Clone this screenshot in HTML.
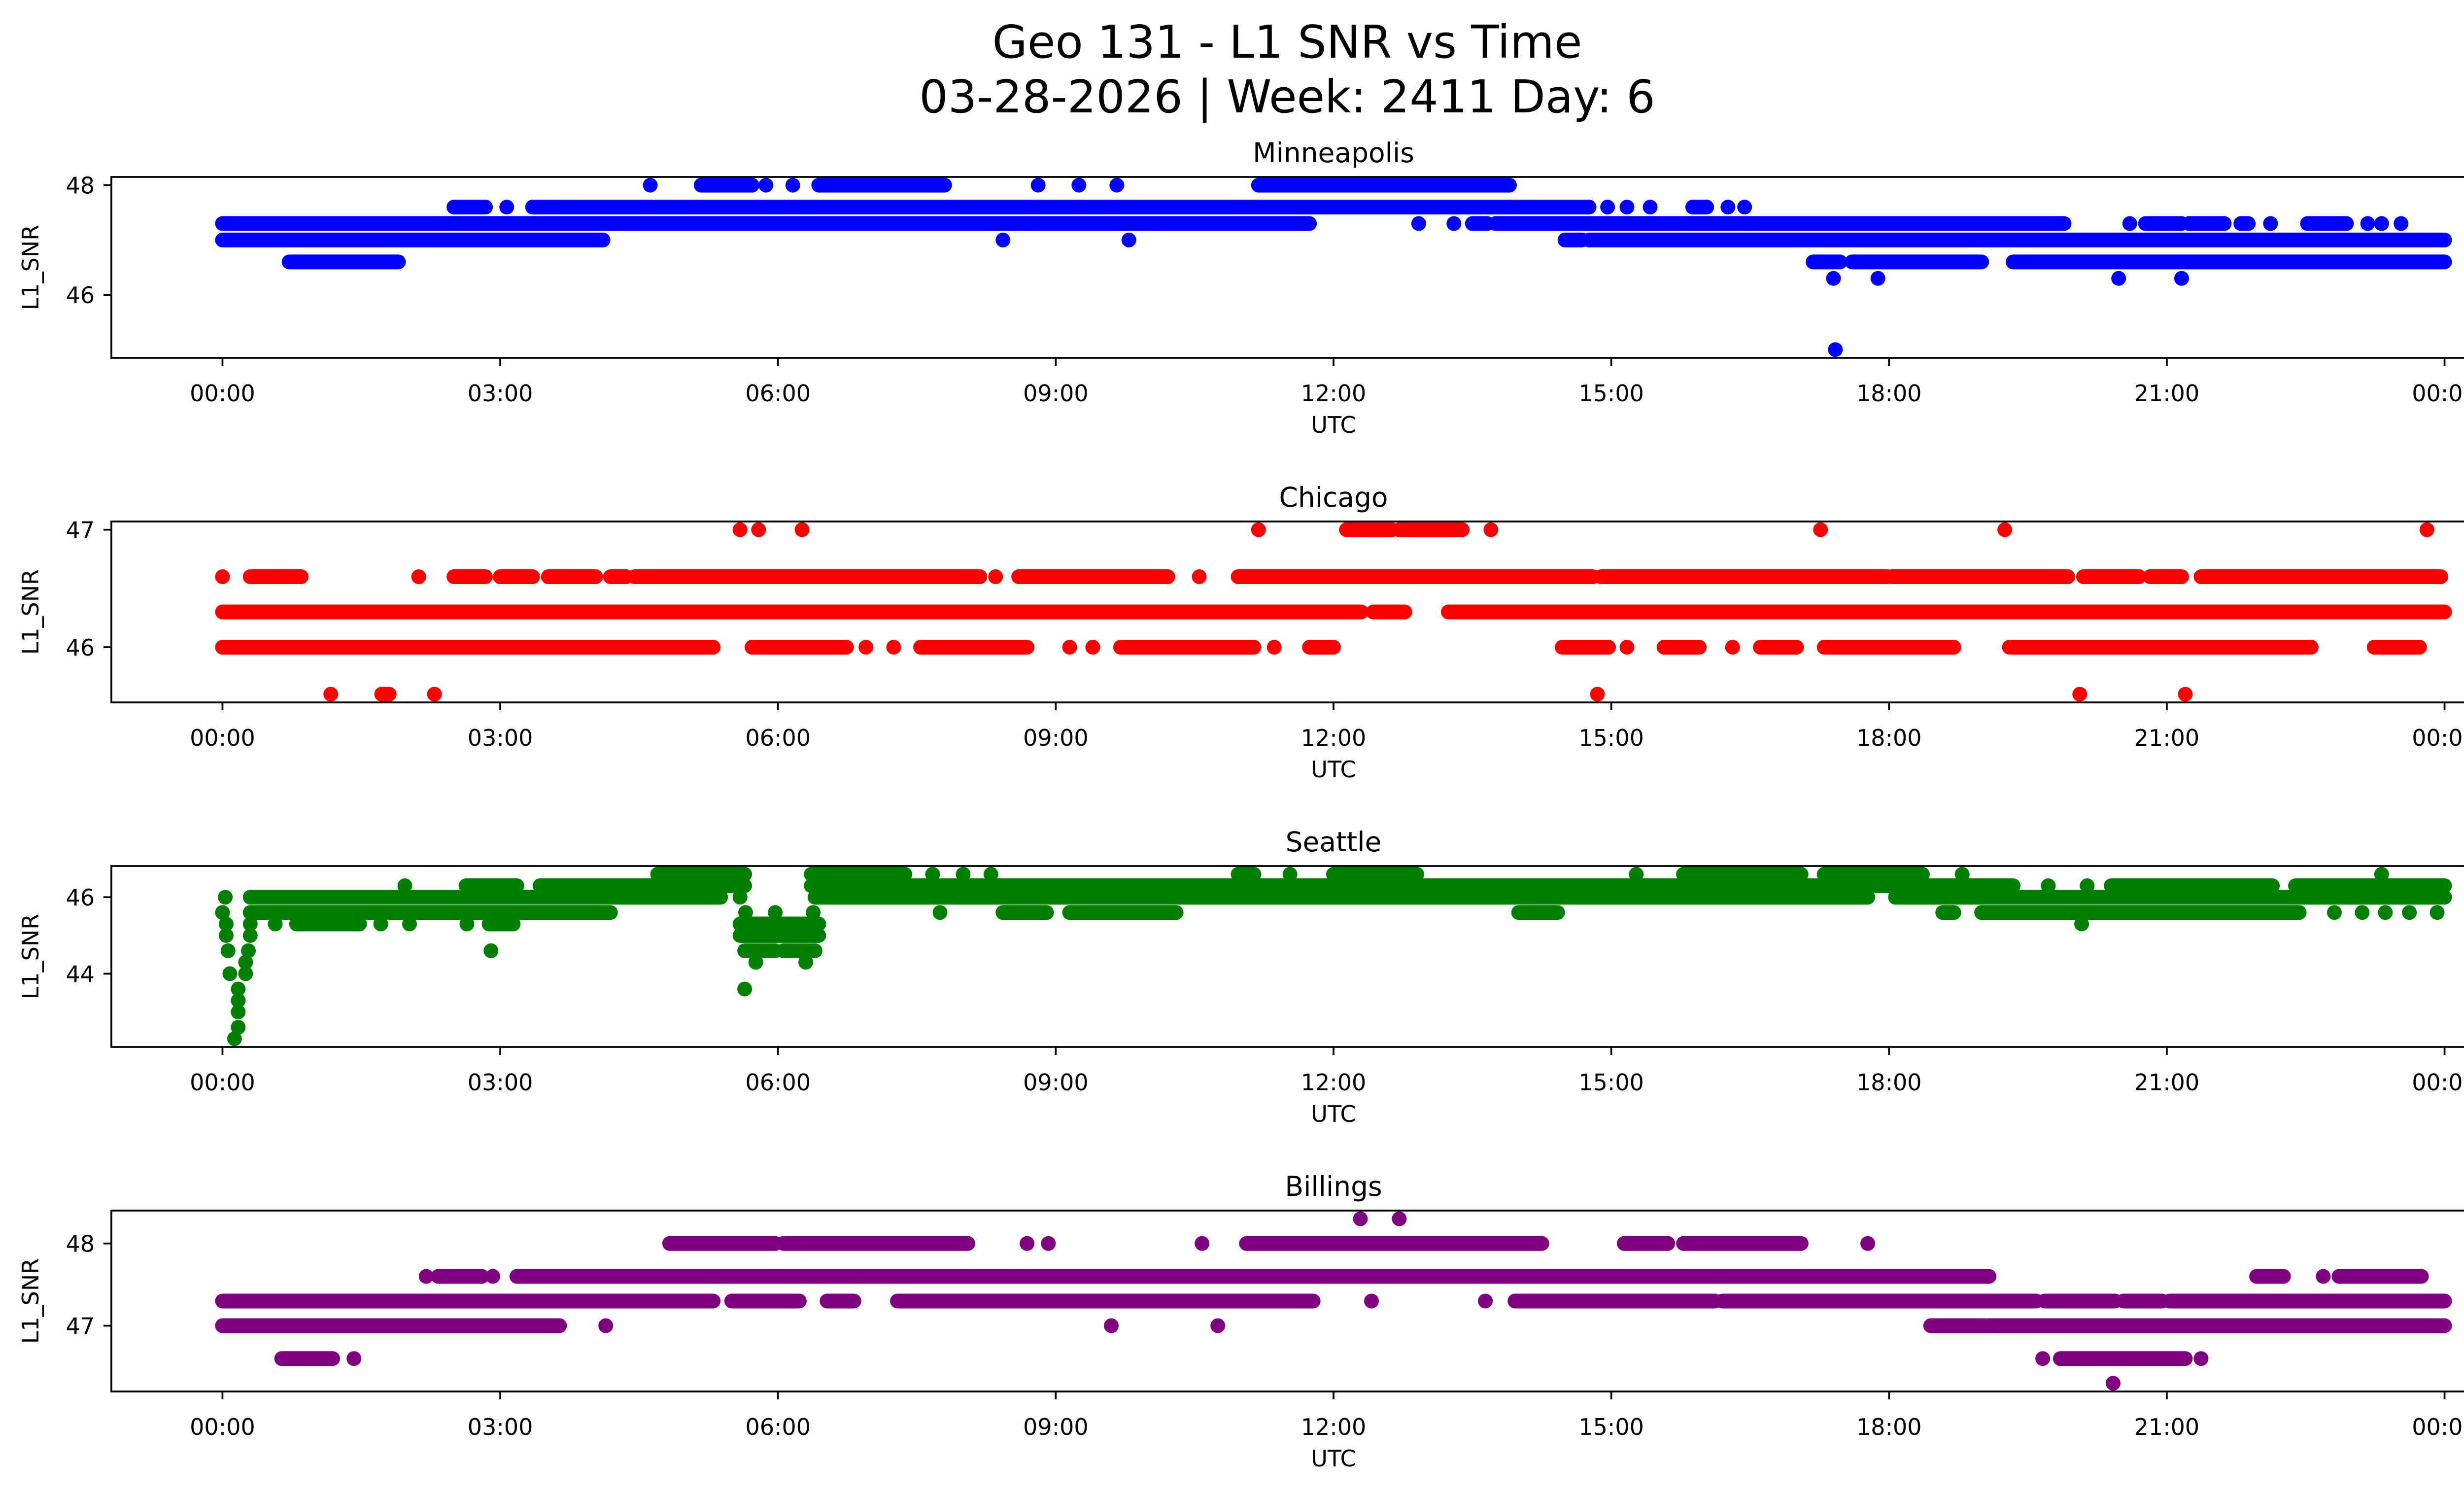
<!DOCTYPE html>
<html><head><meta charset="utf-8">
<style>
html,body{margin:0;padding:0;background:#fff;}
svg{display:block;}
text{font-family:"DejaVu Sans","Liberation Sans",sans-serif;fill:#000;}
</style></head>
<body>
<svg id="fig" xmlns="http://www.w3.org/2000/svg" width="5225" height="3033" viewBox="0 0 5225 3033">
<rect width="5225" height="3033" fill="#fff"/>
<text x="2612" y="117" font-size="92" text-anchor="middle">Geo 131 - L1 SNR vs Time</text>
<text x="2612" y="228" font-size="92" text-anchor="middle">03-28-2026 | Week: 2411 Day: 6</text>
</svg>
<script>
const xTickHours = [0,3,6,9,12,15,18,21,24];
const xTickLabels = ["00:00","03:00","06:00","09:00","12:00","15:00","18:00","21:00","00:00"];
const stationNames = ["Minneapolis","Chicago","Seattle","Billings"];
const stationColors = ["blue","red","green","purple"];
const yDomains = [[44.85,48.15],[45.53,47.07],[42.085,46.815],[46.2,48.4]];
const yTicks = [[46,48],[46,47],[44,46],[47,48]];
// runs of consecutive samples: [startHour, endHour, snr]
const minneapolisRuns = [
[4.62,4.62,48],[5.17,5.72,48],[5.87,5.87,48],[6.16,6.16,48],[6.44,7.8,48],[8.81,8.81,48],[9.25,9.25,48],[9.66,9.66,48],[11.19,13.9,48],
[2.5,2.84,47.6],[3.07,3.07,47.6],[3.35,14.76,47.6],[14.96,14.96,47.6],[15.17,15.17,47.6],[15.42,15.42,47.6],[15.88,16.03,47.6],[16.26,16.26,47.6],[16.44,16.44,47.6],
[0,11.74,47.3],[12.92,12.92,47.3],[13.3,13.3,47.3],[13.5,13.66,47.3],[13.75,19.89,47.3],[20.6,20.6,47.3],[20.77,21.16,47.3],[21.24,21.62,47.3],[21.8,21.88,47.3],[22.12,22.12,47.3],[22.52,22.94,47.3],[23.17,23.17,47.3],[23.32,23.32,47.3],[23.53,23.53,47.3],
[0,4.11,47.0],[8.43,8.43,47.0],[9.79,9.79,47.0],[14.5,14.68,47.0],[14.76,24,47.0],
[0.72,1.9,46.6],[17.18,17.47,46.6],[17.6,19.0,46.6],[19.34,24,46.6],
[17.4,17.4,46.3],[17.88,17.88,46.3],[20.48,20.48,46.3],[21.16,21.16,46.3],
[17.42,17.42,45.0]
];
const chicagoRuns = [
[5.59,5.59,47],[5.79,5.79,47],[6.26,6.26,47],[11.19,11.19,47],[12.14,12.63,47],[12.71,13.39,47],[13.7,13.7,47],[17.26,17.26,47],[19.25,19.25,47],[23.81,23.81,47],
[0,0,46.6],[0.3,0.85,46.6],[2.12,2.12,46.6],[2.5,2.84,46.6],[3.0,3.35,46.6],[3.52,4.03,46.6],[4.19,4.36,46.6],[4.45,8.18,46.6],[8.35,8.35,46.6],[8.6,10.21,46.6],[10.55,10.55,46.6],[10.97,14.8,46.6],[14.89,17.98,46.6],[18.03,19.93,46.6],[20.1,20.7,46.6],[20.82,21.16,46.6],[21.37,23.96,46.6],
[0,12.3,46.3],[12.43,12.77,46.3],[13.24,24,46.3],
[0,5.3,46.0],[5.72,6.74,46.0],[6.95,6.95,46.0],[7.25,7.25,46.0],[7.54,8.69,46.0],[9.15,9.15,46.0],[9.4,9.4,46.0],[9.7,11.14,46.0],[11.36,11.36,46.0],[11.74,12.0,46.0],[14.47,14.97,46.0],[15.17,15.17,46.0],[15.57,15.95,46.0],[16.31,16.31,46.0],[16.61,17.0,46.0],[17.3,18.7,46.0],[19.3,22.56,46.0],[23.24,23.73,46.0],
[1.17,1.17,45.6],[1.72,1.8,45.6],[2.29,2.29,45.6],[14.85,14.85,45.6],[20.06,20.06,45.6],[21.2,21.2,45.6]
];
const seattleRuns = [
[4.7,5.64,46.6],[6.36,7.37,46.6],[7.67,7.67,46.6],[8.0,8.0,46.6],[8.3,8.3,46.6],[10.97,11.14,46.6],[11.53,11.53,46.6],[12.0,12.9,46.6],[15.27,15.27,46.6],[15.78,17.05,46.6],[17.3,18.36,46.6],[18.79,18.79,46.6],[23.32,23.32,46.6],
[1.97,1.97,46.3],[2.63,3.18,46.3],[3.43,5.64,46.3],[6.36,19.34,46.3],[19.72,19.72,46.3],[20.14,20.14,46.3],[20.4,22.14,46.3],[22.39,24,46.3],
[0.03,0.03,46.0],[0.3,5.38,46.0],[5.59,5.59,46.0],[6.4,17.77,46.0],[18.07,24,46.0],
[0,0,45.6],[0.3,4.19,45.6],[5.65,5.65,45.6],[5.97,5.97,45.6],[6.38,6.38,45.6],[7.75,7.75,45.6],[8.43,8.9,45.6],[9.15,10.3,45.6],[14.0,14.42,45.6],[18.58,18.7,45.6],[19.0,22.43,45.6],[22.81,22.81,45.6],[23.11,23.11,45.6],[23.36,23.36,45.6],[23.62,23.62,45.6],[23.92,23.92,45.6],
[0.04,0.04,45.3],[0.3,0.3,45.3],[0.57,0.57,45.3],[0.8,1.48,45.3],[1.71,1.71,45.3],[2.02,2.02,45.3],[2.64,2.64,45.3],[2.88,3.14,45.3],[5.59,6.44,45.3],[20.08,20.08,45.3],
[0.04,0.04,45.0],[0.3,0.3,45.0],[5.59,6.44,45.0],
[0.06,0.06,44.6],[0.28,0.28,44.6],[2.9,2.9,44.6],[5.64,5.97,44.6],[6.06,6.4,44.6],
[0.25,0.25,44.3],[5.76,5.76,44.3],[6.3,6.3,44.3],
[0.08,0.08,44.0],[0.25,0.25,44.0],
[0.17,0.17,43.6],[5.64,5.64,43.6],
[0.17,0.17,43.3],[0.17,0.17,43.0],[0.17,0.17,42.6],[0.13,0.13,42.3]
];
const billingsRuns = [
[12.29,12.29,48.3],[12.71,12.71,48.3],
[4.83,5.97,48],[6.06,8.05,48],[8.69,8.69,48],[8.92,8.92,48],[10.58,10.58,48],[11.06,14.25,48],[15.14,15.61,48],[15.78,17.05,48],[17.77,17.77,48],
[2.2,2.2,47.6],[2.33,2.8,47.6],[2.92,2.92,47.6],[3.18,19.08,47.6],[21.97,22.26,47.6],[22.69,22.69,47.6],[22.86,23.75,47.6],
[0,5.3,47.3],[5.5,6.23,47.3],[6.53,6.82,47.3],[7.29,11.78,47.3],[12.41,12.41,47.3],[13.64,13.64,47.3],[13.96,16.12,47.3],[16.2,19.59,47.3],[19.68,20.44,47.3],[20.53,20.95,47.3],[21.03,24,47.3],
[0,3.64,47.0],[4.14,4.14,47.0],[9.6,9.6,47.0],[10.75,10.75,47.0],[18.45,19.04,47.0],[19.08,24,47.0],
[0.64,1.19,46.6],[1.42,1.42,46.6],[19.66,19.66,46.6],[19.85,21.2,46.6],[21.37,21.37,46.6],
[20.42,20.42,46.3]
];
const allRuns = [minneapolisRuns, chicagoRuns, seattleRuns, billingsRuns];

const NS = "http://www.w3.org/2000/svg";
const svg = document.getElementById('fig');
const AX_L = 226, AX_R = 5186, AX_H = 367;
const axTops = [359, 1058, 1757, 2456];
const xScale = h => AX_L + (h - (-1.2)) / 26.4 * (AX_R - AX_L);
function mk(tag, attrs, parent){const e=document.createElementNS(NS,tag);for(const k in attrs)e.setAttribute(k,attrs[k]);(parent||svg).appendChild(e);return e;}

for (let p = 0; p < 4; p++) {
  const top = axTops[p], bot = top + AX_H;
  const [y0, y1] = yDomains[p];
  const yScale = v => bot - (v - y0) / (y1 - y0) * AX_H;
  const g = mk('g', {});
  
  
  const clipId = 'clip' + p;
  const cp = mk('clipPath', {id: clipId}, g);
  mk('rect', {x: AX_L, y: top, width: AX_R - AX_L, height: AX_H}, cp);
  const marks = mk('g', {'clip-path': 'url(#' + clipId + ')', stroke: stationColors[p], 'stroke-width': 30, 'stroke-linecap': 'round'}, g);
  
  
  allRuns[p].forEach(r => {
    const ln = mk('line', {x1: xScale(r[0]), x2: xScale(r[1]), y1: yScale(r[2]), y2: yScale(r[2])}, marks);
    
    
  });
  const frame = mk('rect', {x: AX_L, y: top, width: AX_R - AX_L, height: AX_H, fill: 'none', stroke: '#000', 'stroke-width': 3.7}, g);
  
  
  xTickHours.forEach((h, i) => {
    const x = xScale(h);
    mk('line', {x1: x, x2: x, y1: bot, y2: bot + 16, stroke: '#000', 'stroke-width': 3.7}, g);
    const t = mk('text', {x: x, y: bot + 88, 'font-size': 46, 'text-anchor': 'middle'}, g);
    
    
    t.textContent = xTickLabels[i];
  });
  yTicks[p].forEach(v => {
    const y = yScale(v);
    mk('line', {x1: AX_L - 16, x2: AX_L, y1: y, y2: y, stroke: '#000', 'stroke-width': 3.7}, g);
    const t = mk('text', {x: AX_L - 34, y: y + 17, 'font-size': 46, 'text-anchor': 'end'}, g);
    
    
    t.textContent = String(v);
  });
  const xl = mk('text', {x: (AX_L + AX_R) / 2, y: bot + 152, 'font-size': 46, 'text-anchor': 'middle'}, g);
  
  
  xl.textContent = 'UTC';
  const cy = (top + bot) / 2;
  const yl = mk('text', {x: 78, y: cy, 'font-size': 46, 'text-anchor': 'middle', transform: 'rotate(-90 78 ' + cy + ')'}, g);
  
  
  yl.textContent = 'L1_SNR';
  const st = mk('text', {x: (AX_L + AX_R) / 2, y: top - 30, 'font-size': 55, 'text-anchor': 'middle'}, g);
  
  
  st.textContent = stationNames[p];
}
</script>
</body></html>
